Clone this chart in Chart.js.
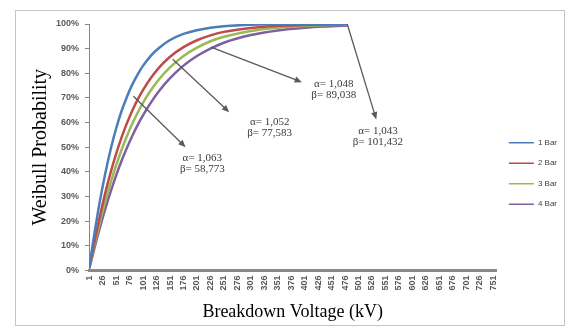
<!DOCTYPE html>
<html>
<head>
<meta charset="utf-8">
<script src="https://cdn.jsdelivr.net/npm/chart.js@4.4.1/dist/chart.umd.min.js"></script>
<style>
  html, body { margin: 0; padding: 0; background: #fff; }
  canvas { display: block; }
</style>
</head>
<body>
<canvas id="myChart" width="568" height="331"></canvas>
<script>
// breakdown voltage (kV) where the curves were read
const voltages = [1, 6, 11, 16, 21, 31, 41, 51, 61, 71, 81, 91, 101, 116, 131, 151, 176, 201, 226, 251, 301, 351, 401, 451, 481]

// weibull probability (%) per pressure
const bar1 = [1.3, 8.5, 15.5, 22.2, 28.5, 39.7, 49.4, 57.7, 64.7, 70.5, 75.5, 79.6, 83.1, 87.3, 90.4, 93.5, 96.0, 97.5, 98.5, 99.1, 99.7, 99.9, 100, 100, 100]
const bar2 = [1.0, 6.5, 12.0, 17.3, 22.3, 31.7, 40.0, 47.4, 54.0, 59.8, 64.9, 69.4, 73.3, 78.3, 82.4, 86.7, 90.6, 93.4, 95.4, 96.8, 98.4, 99.3, 99.6, 99.8, 99.9]
const bar3 = [0.9, 5.7, 10.6, 15.3, 19.8, 28.2, 35.8, 42.7, 49.0, 54.6, 59.6, 64.1, 68.1, 73.3, 77.7, 82.4, 87.0, 90.4, 93.0, 94.8, 97.2, 98.5, 99.2, 99.6, 99.7]
const bar4 = [0.8, 5.1, 9.4, 13.6, 17.6, 25.2, 32.2, 38.6, 44.5, 49.8, 54.7, 59.1, 63.0, 68.3, 72.9, 78.0, 83.1, 87.0, 90.0, 92.4, 95.5, 97.4, 98.5, 99.1, 99.4]

const seriesNames = ["1 Bar", "2 Bar", "3 Bar", "4 Bar"]
const seriesColors = ["#4A7EBB", "#BE4B48", "#98B954", "#7D60A0"]

const xTicks = [1, 26, 51, 76, 101, 126, 151, 176, 201, 226, 251, 276, 301, 326, 351, 376, 401, 426, 451, 476, 501, 526, 551, 576, 601, 626, 651, 676, 701, 726, 751]
const yTicks = [0, 10, 20, 30, 40, 50, 60, 70, 80, 90, 100]

// fitted parameters written next to the curves, with arrow (from -> to) and text anchor in data units
const notes = [
  { text: ["α= 1,063", "β= 58,773"], from: [83, 70.7], to: [180, 50], at: [211, 45.5] },
  { text: ["α= 1,052", "β= 77,583"], from: [156, 85.7], to: [261, 64.2], at: [336, 60] },
  { text: ["α= 1,048", "β= 89,038"], from: [227, 90.6], to: [396, 76.4], at: [455, 75.5] },
  { text: ["α= 1,043", "β= 101,432"], from: [480, 100], to: [534, 61.3], at: [537, 56.5] }
]

const frame = {
  id: "frame",
  beforeDraw(chart) {
    const ctx = chart.ctx
    ctx.save()
    ctx.fillStyle = "#fff"
    ctx.fillRect(0, 0, chart.width, chart.height)
    ctx.strokeStyle = "#c4c4c4"
    ctx.lineWidth = 1
    ctx.strokeRect(15.5, 10.5, 549, 315)
    ctx.restore()
  }
}

const arrows = {
  id: "arrows",
  afterDatasetsDraw(chart) {
    const ctx = chart.ctx
    const x = chart.scales.x
    const y = chart.scales.y
    ctx.save()
    notes.forEach(n => {
      const x1 = x.getPixelForValue(n.from[0]), y1 = y.getPixelForValue(n.from[1])
      const x2 = x.getPixelForValue(n.to[0]), y2 = y.getPixelForValue(n.to[1])
      const ang = Math.atan2(y2 - y1, x2 - x1)
      ctx.strokeStyle = "#5a5a5a"
      ctx.fillStyle = "#5a5a5a"
      ctx.lineWidth = 1.3
      ctx.beginPath()
      ctx.moveTo(x1, y1)
      ctx.lineTo(x2 - 5 * Math.cos(ang), y2 - 5 * Math.sin(ang))
      ctx.stroke()
      ctx.beginPath()
      ctx.moveTo(x2, y2)
      ctx.lineTo(x2 - 8 * Math.cos(ang - 0.4), y2 - 8 * Math.sin(ang - 0.4))
      ctx.lineTo(x2 - 8 * Math.cos(ang + 0.4), y2 - 8 * Math.sin(ang + 0.4))
      ctx.closePath()
      ctx.fill()

      const tx = x.getPixelForValue(n.at[0]), ty = y.getPixelForValue(n.at[1])
      ctx.fillStyle = "#3a3a3a"
      ctx.font = "11px 'Liberation Serif'"
      ctx.textAlign = "center"
      ctx.textBaseline = "middle"
      n.text.forEach((t, i) => ctx.fillText(t, tx, ty + i * 11))
    })
    ctx.restore()
  }
}

const tickFont = { family: "'Liberation Sans'", size: 9, weight: "bold" }

new Chart(document.getElementById("myChart").getContext("2d"), {
  type: "line",
  data: {
    datasets: seriesNames.map((name, i) => ({
      label: name,
      data: voltages.map((v, j) => ({ x: v, y: [bar1, bar2, bar3, bar4][i][j] })),
      borderColor: seriesColors[i],
      backgroundColor: seriesColors[i],
      borderWidth: 2.5,
      pointRadius: 0,
      cubicInterpolationMode: "monotone",
      fill: false
    }))
  },
  options: {
    responsive: false,
    animation: false,
    devicePixelRatio: 1,
    layout: { padding: { left: 18, top: 24, right: 1, bottom: 8 } },
    plugins: {
      tooltip: { enabled: false },
      legend: {
        position: "right",
        labels: {
          boxWidth: 25,
          boxHeight: 0,
          padding: 12.5,
          color: "#404040",
          font: { family: "'Liberation Sans'", size: 8 },
          generateLabels: chart => Chart.defaults.plugins.legend.labels.generateLabels(chart)
            .map(item => Object.assign(item, { lineWidth: 1.6 }))
        }
      }
    },
    scales: {
      x: {
        type: "linear",
        min: 0.5,
        max: 757,
        afterBuildTicks: s => { s.ticks = xTicks.map(v => ({ value: v })) },
        afterFit: s => { s.height = 52.5 },
        grid: { display: false, drawTicks: false },
        border: { display: true, color: "#8a8a8a", width: 3 },
        ticks: {
          autoSkip: false,
          minRotation: 90,
          maxRotation: 90,
          padding: 5,
          color: "#595959",
          font: tickFont,
          callback: v => String(v)
        },
        title: {
          display: true,
          text: "Breakdown Voltage (kV)",
          color: "#000",
          font: { family: "'Liberation Serif'", size: 18 },
          padding: { top: 2, bottom: 0 }
        }
      },
      y: {
        min: 0,
        max: 100,
        afterBuildTicks: s => { s.ticks = yTicks.map(v => ({ value: v })) },
        afterFit: s => { s.width = 71 },
        grid: { drawOnChartArea: false, drawTicks: true, tickLength: 4, color: "#868686" },
        border: { display: true, color: "#868686", width: 1 },
        ticks: {
          padding: 6,
          color: "#595959",
          font: tickFont,
          callback: v => v + "%"
        },
        title: {
          display: true,
          text: "Weibull Probability",
          color: "#000",
          font: { family: "'Liberation Serif'", size: 20 },
          padding: { top: 11, bottom: 0 }
        }
      }
    }
  },
  plugins: [frame, arrows]
})
</script>
</body>
</html>
